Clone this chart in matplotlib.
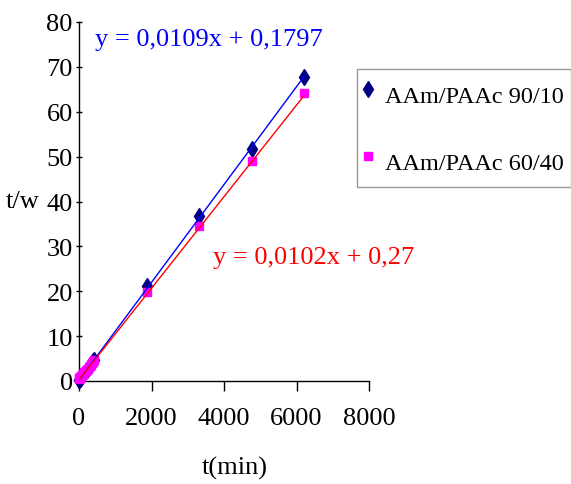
import numpy as np
import matplotlib
matplotlib.use('Agg')
import matplotlib.pyplot as plt

# sorption data: time (min) vs t/w for the two hydrogel compositions
t_9010 = [5, 10, 15, 20, 30, 45, 60, 90, 120, 150, 180, 210, 240, 270, 300, 330, 360, 390, 420,
          1880, 3320, 4760, 6200]
tw_9010 = [0.25, 0.30, 0.36, 0.40, 0.52, 0.68, 0.85, 1.18, 1.50, 1.85, 2.15, 2.48, 2.80, 3.12, 3.46,
           3.78, 4.10, 4.44, 4.76, 21.2, 36.7, 51.7, 67.7]

t_6040 = [5, 10, 15, 20, 30, 45, 60, 90, 120, 150, 180, 210, 240, 270, 300, 330, 360, 390, 420,
          1880, 3320, 4760, 6200]
tw_6040 = [0.50, 0.60, 0.65, 0.70, 0.85, 0.95, 1.10, 1.40, 1.60, 1.90, 2.20, 2.50, 2.75, 3.05, 3.35,
           3.65, 3.95, 4.25, 4.60, 19.8, 34.5, 49.0, 64.1]

# linear trendlines (slope, intercept)
fit_9010 = (0.0109, 0.1797)
fit_6040 = (0.0102, 0.27)

labels = ['AAm/PAAc 90/10', 'AAm/PAAc 60/40']

plt.rcParams['font.family'] = ['Liberation Serif', 'DejaVu Serif']
fs = 19

fig = plt.figure(figsize=(5.71, 4.85), dpi=100)
ax = fig.add_axes([79/571, 1 - 382/485, 290/571, 359/485])

d1, = ax.plot(t_9010, tw_9010, linestyle='none', marker='d', color='#000080',
              markersize=8, clip_on=False, zorder=3, label=labels[0])
d2, = ax.plot(t_6040, tw_6040, linestyle='none', marker='s', color='#FF00FF',
              markersize=6, clip_on=False, zorder=4, label=labels[1])

xx = np.array([0, max(t_9010)])
ax.plot(xx, fit_9010[0] * xx + fit_9010[1], color='#0000FF', linewidth=1.0, zorder=5)
xx = np.array([0, max(t_6040)])
ax.plot(xx, fit_6040[0] * xx + fit_6040[1], color='#FF0000', linewidth=1.0, zorder=5)

ax.set_xlim(0, 8000)
ax.set_ylim(0, 80)
ax.set_xticks(np.arange(0, 8001, 2000))
ax.set_yticks(np.arange(0, 81, 10))

for side in ['top', 'right']:
    ax.spines[side].set_visible(False)
ax.spines['left'].set_linewidth(1.0)
ax.spines['bottom'].set_linewidth(1.0)
ax.tick_params(axis='y', direction='inout', length=5, width=1.0, pad=2, labelsize=fs)
ax.tick_params(axis='x', direction='out', length=7, width=1.0, pad=12, labelsize=fs)

fig.text(6/571, 1 - 202/485, 't/w', fontsize=fs, ha='left', va='center')
fig.text(235/571, 1 - 468/485, 't(min)', fontsize=fs, ha='center', va='center')

fig.text(95/571, 1 - 40/485, 'y = 0,0109x + 0,1797', fontsize=fs, color='#0000FF',
         ha='left', va='center')
fig.text(213/571, 1 - 258/485, 'y = 0,0102x + 0,27', fontsize=fs, color='#FF0000',
         ha='left', va='center')

leg = fig.legend(handles=[d1, d2], loc='upper left', bbox_to_anchor=(357/571, 1 - 70/485),
                 fontsize=17.5, frameon=True, fancybox=False, borderpad=0.3,
                 handlelength=0.3, handleheight=1.92, handletextpad=0.55,
                 labelspacing=1.26, borderaxespad=0)
leg.get_frame().set_edgecolor('#808080')
leg.get_frame().set_linewidth(1.0)

fig.savefig('out.png', dpi=100)
